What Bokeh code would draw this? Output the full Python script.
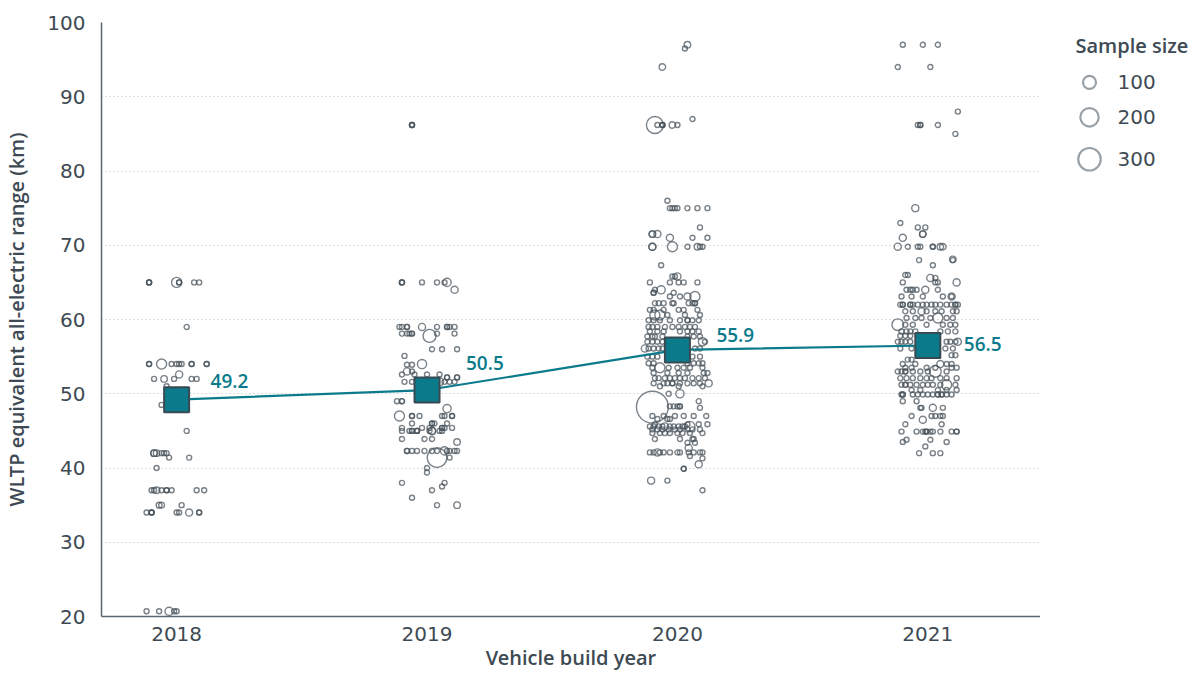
import numpy as np
from bokeh.plotting import figure
from bokeh.layouts import row
from bokeh.models import Range1d, FixedTicker, ColumnDataSource
from bokeh.core.properties import value
from bokeh.embed import file_html
from bokeh.resources import INLINE

# ---------------- data ----------------
years = [2018, 2019, 2020, 2021]
mean_range = [49.2, 50.5, 55.9, 56.5]
mean_labels = ["49.2", "50.5", "55.9", "56.5"]
y_ticks = [20, 30, 40, 50, 60, 70, 80, 90, 100]
legend_sizes = [100, 200, 300]
SMALL_N = 15  # sample size of the many small models

# small models: (range km, [jitter from build year, in years])
small_2018 = [
    (65, [-0.11, -0.11, -0.11, 0.01, 0.01, 0.07, 0.09]),
    (59, [0.04]),
    (54, [-0.11, -0.11, -0.02, 0.0, 0.01, 0.02, 0.06, 0.06, 0.12, 0.12]),
    (52, [-0.09, -0.01, 0.06, 0.08]),
    (51, [-0.04]),
    (48.5, [-0.06]),
    (45, [0.04]),
    (42, [-0.06, -0.05, -0.04]),
    (41.4, [-0.03, 0.05]),
    (40, [-0.08]),
    (37, [-0.10, -0.09, -0.06, -0.04, -0.04, -0.02, 0.08, 0.11]),
    (35, [0.02]),
    (34, [-0.12, -0.10, -0.10, -0.10, 0.0, 0.01, 0.09, 0.09]),
    (20.7, [-0.12, -0.07, -0.01, 0.0]),
]
# larger models: (jitter, range km, sample size)
big_2018 = [(0.0, 65, 60), (-0.06, 54, 60), (-0.05, 52, 25), (0.01, 52.6, 30),
            (-0.09, 42, 25), (-0.09, 42, 25), (-0.08, 42, 25), (-0.08, 37, 25),
            (-0.07, 35, 20), (-0.06, 35, 20), (0.05, 34, 30), (-0.03, 20.7, 40)]

small_2019 = [
    (86.2, [-0.06, -0.06, -0.06]),
    (65, [-0.10, -0.10, -0.10, -0.02, 0.04, 0.07]),
    (59, [-0.11, -0.10, -0.08, -0.08, 0.04, 0.08, 0.08, 0.09, 0.11]),
    (58.1, [-0.10, -0.08, -0.07, -0.06, -0.06, 0.04, 0.11]),
    (56, [0.02, 0.06, 0.12]),
    (55.1, [-0.09]),
    (53.9, [-0.08, -0.06]),
    (53, [-0.06]),
    (52.6, [-0.10, -0.05, 0.0, 0.05]),
    (52.2, [0.08, 0.08, 0.12, 0.12]),
    (51.6, [-0.09, -0.06, -0.04, 0.0, 0.04, 0.07, 0.09, 0.11]),
    (49, [-0.12, -0.10, -0.10]),
    (47, [-0.06, -0.06, -0.03, 0.06, 0.07, 0.10, 0.10]),
    (46, [-0.06, 0.02, 0.02, 0.03, 0.08]),
    (45.4, [-0.10, -0.02, 0.01, 0.06, 0.06, 0.07, 0.10]),
    (45, [-0.10, -0.07, -0.06, -0.06, -0.04, -0.04, -0.04, 0.01, 0.05, 0.06]),
    (43.9, [-0.10, -0.01, 0.02]),
    (42.3, [-0.08, -0.08, -0.06, -0.04, -0.01, 0.02, 0.04, 0.08, 0.09, 0.11, 0.12]),
    (41.4, [0.09]),
    (40, [0.0]),
    (39.4, [0.0]),
    (38, [-0.10, 0.07]),
    (37.5, [0.06]),
    (37, [0.02]),
    (36, [-0.06]),
    (35, [0.04]),
]
big_2019 = [(0.08, 65, 40), (0.11, 64, 30), (-0.02, 59, 30), (0.01, 57.8, 100),
            (-0.02, 54, 50), (-0.08, 53, 30), (0.05, 51.6, 40), (0.08, 48, 40),
            (-0.11, 47, 60), (0.02, 45, 30), (0.02, 45, 30), (0.07, 42.3, 40),
            (0.04, 41.4, 230), (0.12, 43.5, 25), (0.12, 35, 25)]

small_2020 = [
    (96.5, [0.03]),
    (87, [0.06]),
    (86.2, [-0.08, -0.06, -0.06, -0.06, 0.0]),
    (76, [-0.04]),
    (75, [-0.03, -0.02, -0.01, 0.0, 0.04, 0.08, 0.12]),
    (72.4, [0.09]),
    (71, [0.06, 0.12]),
    (69.8, [0.04, 0.09, 0.10]),
    (67.3, [-0.065]),
    (65.8, [-0.02, -0.01]),
    (65.0, [-0.11, -0.03, 0.005, 0.025, 0.08]),
    (64.0, [-0.09]),
    (63.6, [-0.095, -0.095, -0.015]),
    (63.1, [-0.03, 0.01]),
    (62.2, [-0.09, -0.075, -0.055, -0.02, -0.015, 0.045, 0.06, 0.07, 0.07]),
    (61.3, [-0.11, -0.095, -0.055, 0.005, 0.025, 0.08]),
    (60.6, [-0.04, 0.03, 0.09]),
    (59.9, [-0.115, -0.095, -0.07, -0.03, 0.01, 0.04, 0.04, 0.06, 0.085]),
    (59.0, [-0.115, -0.10, -0.08, -0.05, -0.02, 0.005, 0.03, 0.05, 0.07]),
    (58.4, [-0.11, -0.08, -0.055, 0.01, 0.04, 0.06, 0.085]),
    (57.7, [-0.12, -0.10, -0.09, -0.06, 0.04, 0.065, 0.09]),
    (57.0, [-0.12, -0.10, -0.08, -0.06, 0.11]),
    (56.1, [-0.115, -0.095, -0.075, -0.06, 0.07, 0.09]),
    (55.0, [-0.12, -0.10, -0.08, 0.06, 0.09]),
    (54.1, [-0.115, -0.095, 0.04, 0.065, 0.085, 0.10]),
    (53.5, [-0.10, -0.035, 0.0, 0.025, 0.05, 0.10]),
    (52.8, [-0.095, -0.04, 0.005, 0.04, 0.105, 0.12]),
    (52.1, [-0.09, -0.075, -0.05, -0.03, -0.01, 0.01, 0.03, 0.06, 0.085, 0.11]),
    (51.4, [-0.095, -0.055, -0.04, -0.02, -0.02, 0.01, 0.04, 0.065, 0.09]),
    (51.0, [-0.07, 0.005, 0.10]),
    (50.0, [-0.035]),
    (49.0, [0.085]),
    (48.3, [-0.03, -0.015, 0.0, 0.01, 0.01]),
    (48.1, [0.09]),
    (47.0, [-0.10, -0.055, -0.01, 0.025, 0.065, 0.115]),
    (46.6, [-0.08, -0.04, -0.03]),
    (45.9, [-0.09, 0.04, 0.085, 0.12]),
    (45.6, [-0.11, -0.095, -0.075, -0.06, -0.03, -0.015, 0.005, 0.02, 0.03]),
    (45.2, [-0.10, -0.08, -0.06, -0.035, -0.01, 0.01, 0.04, 0.06, 0.09]),
    (44.7, [-0.10, -0.07, -0.05, -0.03, 0.0, 0.02, 0.05, 0.10]),
    (43.9, [-0.09, 0.01, 0.06, 0.065]),
    (43.4, [0.04, 0.07]),
    (42.1, [-0.11, -0.095, -0.07, -0.055, -0.03, 0.0, 0.01, 0.045, 0.065, 0.09, 0.10]),
    (41.6, [0.05]),
    (41.3, [0.10]),
    (39.9, [0.025, 0.025]),
    (38.3, [-0.04]),
    (37.0, [0.10]),
]
big_2020 = [(0.04, 97, 25), (-0.06, 94, 25), (-0.09, 86.2, 170), (-0.02, 86.2, 25),
            (-0.10, 71.5, 25), (-0.10, 71.5, 25), (-0.08, 71.5, 30), (-0.03, 71, 30),
            (-0.10, 69.8, 30), (-0.10, 69.8, 30), (-0.02, 69.8, 60), (0.08, 69.8, 25),
            (0.0, 65.8, 30), (-0.065, 64.0, 40), (0.04, 63.1, 30), (0.07, 63.1, 60),
            (-0.09, 60.6, 60), (-0.07, 60.6, 60), (0.10, 57.0, 40), (-0.13, 56.1, 30),
            (-0.07, 53.5, 60), (0.125, 51.4, 30), (0.01, 50.0, 40), (-0.10, 48.2, 600),
            (-0.05, 45.6, 30), (0.05, 45.6, 60), (0.045, 42.7, 30), (-0.08, 42.1, 30),
            (0.085, 40.5, 30), (-0.105, 38.3, 30)]

small_2021 = [
    (97, [-0.10, -0.02, 0.04]),
    (94, [-0.12, 0.01]),
    (88, [0.12]),
    (86.2, [-0.04, -0.03, -0.03, 0.04]),
    (85, [0.11]),
    (73, [-0.11]),
    (72.4, [-0.04, -0.01]),
    (69.8, [-0.08, -0.04, -0.03, 0.02, 0.02]),
    (68.0, [-0.035, 0.10]),
    (67.3, [0.02]),
    (66.0, [-0.09, -0.08]),
    (65.6, [0.03]),
    (65.0, [-0.10, 0.03, 0.04]),
    (64.0, [-0.085, -0.07, -0.06, -0.045, 0.04]),
    (63.1, [-0.105, -0.065, -0.02, 0.06, 0.095]),
    (62.0, [-0.11, -0.10, -0.10, -0.07, -0.07, -0.06, -0.04, -0.02, -0.005, 0.015,
            0.03, 0.05, 0.075, 0.095, 0.11, 0.11, 0.12]),
    (61.1, [-0.09, -0.06, -0.005, 0.03, 0.055, 0.10, 0.115]),
    (60.2, [-0.085, -0.05, -0.025, 0.01, 0.075, 0.10]),
    (59.3, [-0.09, -0.06, -0.005, 0.06, 0.09, 0.11]),
    (58.4, [-0.105, -0.085, -0.07, -0.05, 0.05, 0.08, 0.11]),
    (57.8, [-0.11, -0.09, -0.07]),
    (57.0, [-0.12, -0.105, -0.09, -0.07, 0.075, 0.09, 0.11]),
    (56.1, [-0.11, -0.065, 0.07, 0.10]),
    (55.2, [0.095, 0.11]),
    (54.6, [-0.08, -0.065]),
    (54.0, [-0.10, -0.05, 0.075, 0.095]),
    (53.5, [-0.09, -0.065, -0.005, 0.03, 0.095, 0.115]),
    (53.0, [-0.12, -0.105, -0.09, -0.09, -0.06, -0.03, 0.0, 0.075]),
    (52.1, [-0.11, -0.085, -0.06, -0.03, -0.005, 0.015, 0.05, 0.075, 0.115]),
    (51.2, [-0.105, -0.09, -0.09, -0.07, -0.045, -0.02, 0.0, 0.02, 0.05, 0.11]),
    (50.5, [-0.065, -0.03, 0.04, 0.075, 0.115]),
    (49.9, [-0.105, -0.10, -0.10, -0.06, -0.04, -0.02, 0.0, 0.02, 0.04, 0.04,
            0.055, 0.055, 0.075, 0.095]),
    (49.0, [-0.10, -0.045]),
    (48.1, [-0.03, -0.025, 0.06]),
    (47.0, [-0.065, 0.015, 0.03, 0.05, 0.06]),
    (45.9, [-0.09, 0.055]),
    (44.9, [-0.105, -0.045, -0.02, -0.01, -0.005, -0.005, 0.01, 0.02, 0.05, 0.095,
            0.115, 0.115]),
    (43.8, [-0.085, 0.01]),
    (43.5, [-0.10, 0.075]),
    (42.9, [-0.01]),
    (42.0, [-0.035, 0.02, 0.05]),
]
big_2021 = [(-0.05, 75, 30), (-0.02, 71.5, 25), (-0.02, 71.5, 25), (-0.10, 71, 30),
            (-0.12, 69.8, 30), (0.05, 69.8, 25), (0.06, 69.8, 25), (0.10, 68.1, 25),
            (0.01, 65.6, 30), (0.115, 65.0, 30), (-0.01, 64.0, 30), (0.095, 63.1, 30),
            (-0.025, 61.1, 30), (0.04, 60.2, 60), (-0.12, 59.3, 80), (0.12, 57.0, 30),
            (0.05, 54.0, 30), (0.03, 53.0, 80), (0.075, 51.2, 60), (0.02, 48.1, 30),
            (-0.02, 46.5, 30)]

# ---------------- assemble ----------------
TEAL = "#0b7b8b"
TXT = "#3e4a53"
FONT_NAME = "DejaVu Sans"
FONT_SB_NAME = "'Open Sans SemiBold', 'Open Sans'"


def size_of(n):
    return 1.3 * np.sqrt(np.asarray(n, dtype=float))


xs, ys, ns = [], [], []
for yr, small, big in zip(years, [small_2018, small_2019, small_2020, small_2021],
                          [big_2018, big_2019, big_2020, big_2021]):
    for km, jit in small:
        for j in jit:
            xs.append(yr + j); ys.append(km); ns.append(SMALL_N)
    for j, km, n in big:
        xs.append(yr + j); ys.append(km); ns.append(n)

src = ColumnDataSource(dict(x=xs, y=ys, s=size_of(ns)))

H = 673
TOP, BOTTOM = 22, 617  # frame edges (px) shared by both panels of the row
p = figure(width=1040, height=H, x_range=Range1d(2017.7, 2021.45),
           y_range=Range1d(20, 100), toolbar_location=None, output_backend="svg",
           min_border_left=101, min_border_right=0, min_border_top=TOP,
           min_border_bottom=H - BOTTOM)
p.outline_line_color = None
p.background_fill_color = "white"
p.border_fill_color = "white"

p.scatter("x", "y", size="s", source=src, marker="circle", fill_color=None,
          line_color="#46525a", line_alpha=0.72, line_width=1.4)

p.line(years, mean_range, line_color=TEAL, line_width=2.2)
p.scatter(years, mean_range, marker="square", size=25, fill_color=TEAL,
          line_color="#3a4a52", line_width=2)
p.text(years, mean_range, text=mean_labels, x_offset=[34, 39, 39, 36],
       y_offset=[-19, -27, -15, -1], text_color=TEAL, text_font=value(FONT_SB_NAME),
       text_font_size="19px", text_align="left", text_baseline="middle")

# axes
p.xgrid.visible = False
p.ygrid.ticker = FixedTicker(ticks=y_ticks)
p.ygrid.grid_line_color = "#b5babe"
p.ygrid.grid_line_dash = "1 3"
p.ygrid.grid_line_width = 1.2

p.yaxis.ticker = FixedTicker(ticks=y_ticks)
p.xaxis.ticker = FixedTicker(ticks=years)
for ax in (p.xaxis[0], p.yaxis[0]):
    ax.axis_line_color = "#5b6770"
    ax.axis_line_width = 1.5
    ax.major_tick_line_color = None
    ax.minor_tick_line_color = None
    ax.major_label_text_font = FONT_NAME
    ax.major_label_text_font_size = "20px"
    ax.major_label_text_color = TXT
    ax.axis_label_text_font = FONT_SB_NAME
    ax.axis_label_text_font_style = "normal"
    ax.axis_label_text_font_size = "20px"
    ax.axis_label_text_color = TXT

p.yaxis.axis_label = "WLTP equivalent all-electric range (km)"
p.xaxis.axis_label = "Vehicle build year"
p.yaxis.major_label_standoff = 10
p.yaxis.axis_label_standoff = 14
p.xaxis.major_label_standoff = 4
p.xaxis.axis_label_standoff = 0

# legend panel (its frame is aligned with the main frame; y in page pixels)
LW = 160
lg = figure(width=LW, height=H, x_range=Range1d(0, LW), y_range=Range1d(BOTTOM, TOP),
            toolbar_location=None, output_backend="svg", min_border=0,
            min_border_top=TOP, min_border_bottom=H - BOTTOM)
lg.axis.visible = False
lg.grid.visible = False
lg.outline_line_color = None
lg.scatter([49] * 3, [82, 117, 159], size=size_of(legend_sizes), marker="circle",
           fill_color=None, line_color="#9aa1a6", line_width=2.2)
lg.text([35], [45], text=["Sample size"], text_font=value(FONT_SB_NAME),
        text_font_size="20px", text_color=TXT, text_baseline="middle",
        text_align="left")
lg.text([77] * 3, [82, 117, 159], text=[str(v) for v in legend_sizes],
        text_font=value(FONT_NAME), text_font_size="20px", text_color=TXT,
        text_baseline="middle", text_align="left")

layout = row(p, lg)
open("out.html", "w").write(file_html(layout, INLINE))
